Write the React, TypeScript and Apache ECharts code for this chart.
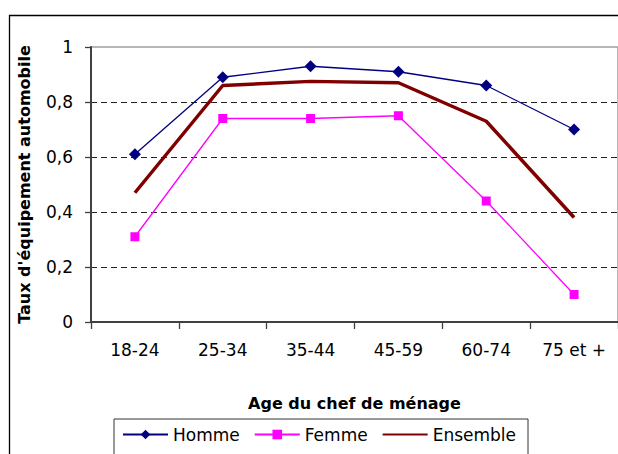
import React, { useEffect, useRef } from "react";
import * as echarts from "echarts";

const categories = ["18-24", "25-34", "35-44", "45-59", "60-74", "75 et +"];
const homme = [0.61, 0.89, 0.93, 0.91, 0.86, 0.7];
const femme = [0.31, 0.74, 0.74, 0.75, 0.44, 0.1];
const ensemble = [0.47, 0.86, 0.875, 0.87, 0.73, 0.38];
const yMin = 0;
const yMax = 1;
const yInterval = 0.2;

const FONT = "DejaVu Sans";

export default function App() {
  const ref = useRef<HTMLDivElement>(null);
  useEffect(() => {
    if (!ref.current) return;
    const chart = echarts.init(ref.current, undefined, { renderer: "svg" });
    chart.setOption({
      animation: false,
      backgroundColor: "#fff",
      textStyle: { fontFamily: FONT },
      graphic: [
        {
          type: "rect",
          shape: { x: 9.5, y: 15.5, width: 700, height: 600 },
          style: { fill: "none", stroke: "#000", lineWidth: 1.3 },
          silent: true,
          z: 0,
        },
      ],
      grid: {
        left: 91,
        top: 47,
        width: 528,
        height: 275,
        show: true,
        borderColor: "#a0a0a0",
        borderWidth: 1.5,
        backgroundColor: "transparent",
      },
      legend: {
        left: 114,
        top: 419,
        orient: "horizontal",
        itemWidth: 45,
        itemHeight: 12,
        itemGap: 14,
        padding: [7, 12, 30, 8],
        borderColor: "#333",
        borderWidth: 1,
        textStyle: { fontFamily: FONT, fontSize: 17, color: "#000" },
        data: [
          { name: "Homme" },
          { name: "Femme" },
          { name: "Ensemble", itemStyle: { opacity: 0 } },
        ],
      },
      xAxis: {
        type: "category",
        data: categories,
        boundaryGap: true,
        name: "Age du chef de ménage",
        nameLocation: "middle",
        nameGap: 73,
        nameTextStyle: { fontFamily: FONT, fontSize: 16, fontWeight: "bold", color: "#000" },
        axisLine: { lineStyle: { color: "#404040", width: 2 } },
        axisTick: { show: true, length: 7, lineStyle: { color: "#404040", width: 1.3 } },
        axisLabel: { fontFamily: FONT, fontSize: 17, color: "#000", margin: 19 },
        splitLine: { show: false },
      },
      yAxis: {
        type: "value",
        min: yMin,
        max: yMax,
        interval: yInterval,
        name: "Taux d'équipement automobile",
        nameLocation: "middle",
        nameGap: 59,
        nameRotate: 90,
        nameTextStyle: { fontFamily: FONT, fontSize: 16, fontWeight: "bold", color: "#000" },
        axisLine: { show: true, lineStyle: { color: "#404040", width: 2 } },
        axisTick: { show: true, length: 6, lineStyle: { color: "#404040", width: 1.3 } },
        axisLabel: {
          fontFamily: FONT,
          fontSize: 17,
          color: "#000",
          margin: 18,
          formatter: (v: number) => String(Math.round(v * 10) / 10).replace(".", ","),
        },
        splitLine: {
          show: true,
          showMinLine: false,
          showMaxLine: false,
          lineStyle: { color: "#222", type: [6, 4], width: 1 },
        },
      },
      series: [
        {
          name: "Homme",
          type: "line",
          data: homme,
          color: "#000080",
          lineStyle: { color: "#000080", width: 1.3 },
          itemStyle: { color: "#000080" },
          symbol: "diamond",
          symbolSize: 12,
          showSymbol: true,
          z: 3,
        },
        {
          name: "Femme",
          type: "line",
          data: femme,
          color: "#ff00ff",
          lineStyle: { color: "#ff00ff", width: 1.3 },
          itemStyle: { color: "#ff00ff" },
          symbol: "rect",
          symbolSize: 9,
          showSymbol: true,
          z: 3,
        },
        {
          name: "Ensemble",
          type: "line",
          data: ensemble,
          color: "#800000",
          lineStyle: { color: "#800000", width: 3.5 },
          itemStyle: { color: "#800000" },
          symbol: "none",
          z: 2,
        },
      ],
    });
    return () => chart.dispose();
  }, []);
  return (
    <div
      ref={ref}
      style={{ position: "absolute", left: 0, top: 0, width: 618, height: 454 }}
    />
  );
}
